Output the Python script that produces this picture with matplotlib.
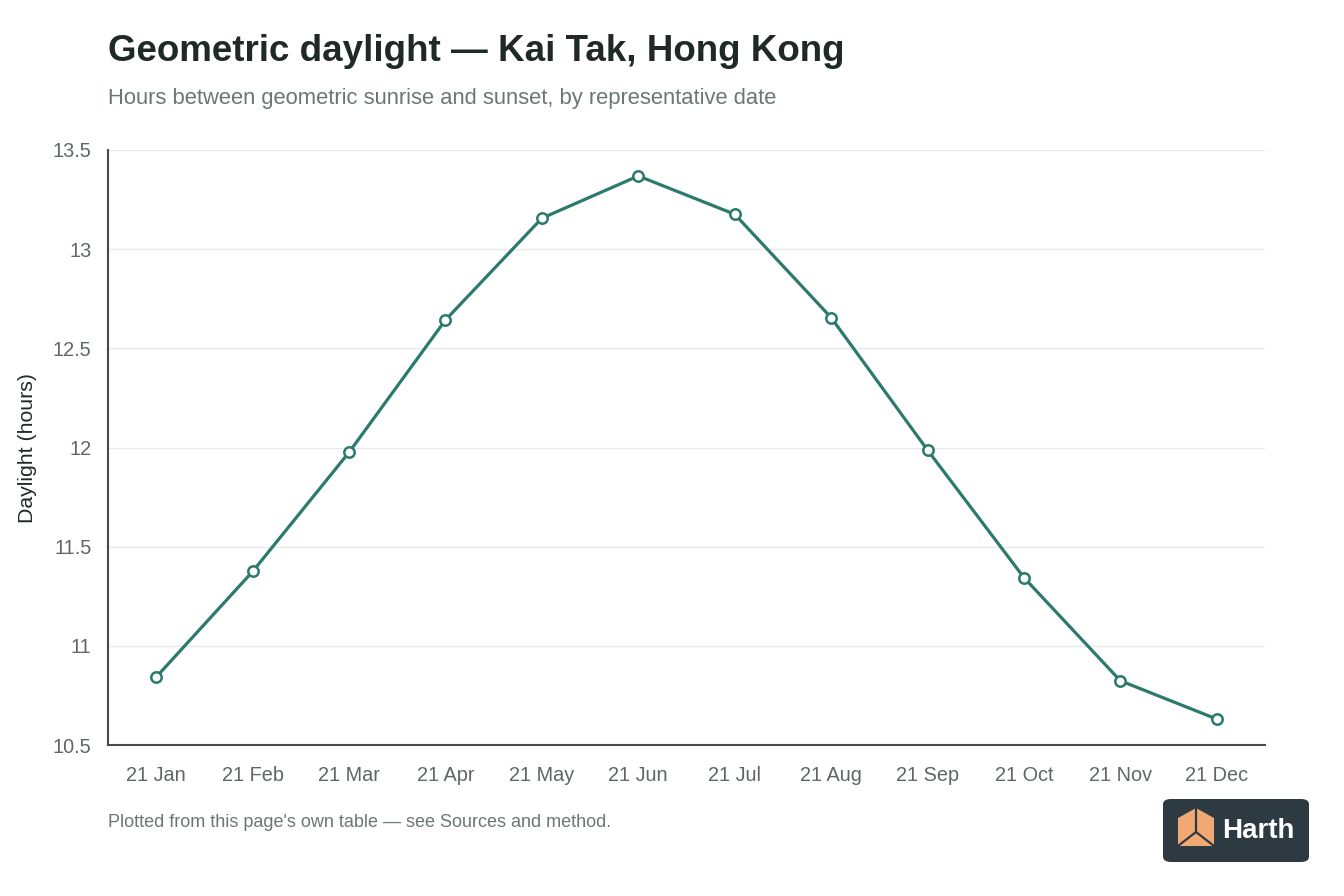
import matplotlib.pyplot as plt
from matplotlib.patches import FancyBboxPatch, Polygon

# daylight hours on the 21st of each month
dates = ['21 Jan', '21 Feb', '21 Mar', '21 Apr', '21 May', '21 Jun',
         '21 Jul', '21 Aug', '21 Sep', '21 Oct', '21 Nov', '21 Dec']
daylight = [10.843, 11.375, 11.976, 12.643, 13.156, 13.369,
            13.176, 12.655, 11.987, 11.344, 10.824, 10.631]
yticks = [10.5, 11, 11.5, 12, 12.5, 13, 13.5]
ytick_labels = ['10.5', '11', '11.5', '12', '12.5', '13', '13.5']

plt.rcParams['font.family'] = ['Liberation Sans', 'DejaVu Sans']

LINE = '#2b7a6c'
TEXT_DARK = '#1f2a27'
TEXT_GRAY = '#6b7774'

fig = plt.figure(figsize=(13.44, 8.96), dpi=100)
ax = fig.add_axes([0.0804, 0.1685, 0.8608, 0.6641])

x = list(range(len(dates)))
ax.plot(x, daylight, color=LINE, linewidth=2.3, marker='o', markersize=7.5,
        markerfacecolor='white', markeredgecolor=LINE, markeredgewidth=1.8,
        zorder=3)

ax.set_xlim(-0.5, len(dates) - 0.5)
ax.set_ylim(10.5, 13.5)
ax.set_xticks(x)
ax.set_xticklabels(dates)
ax.set_yticks(yticks)
ax.set_yticklabels(ytick_labels)
ax.tick_params(axis='both', length=0, labelsize=14.3, labelcolor='#5f6664')
ax.tick_params(axis='x', pad=15)
ax.tick_params(axis='y', pad=12)

ax.grid(axis='y', color='#e8e8e8', linewidth=1)
ax.set_axisbelow(True)
for side in ['top', 'right']:
    ax.spines[side].set_visible(False)
for side in ['left', 'bottom']:
    ax.spines[side].set_color('#4a4a4a')
    ax.spines[side].set_linewidth(1.5)

ax.set_ylabel('Daylight (hours)', fontsize=15.3, color=TEXT_DARK, labelpad=11)

fig.text(0.0804, 0.9425, 'Geometric daylight — Kai Tak, Hong Kong',
         fontsize=26.5, fontweight='bold', color=TEXT_DARK, va='center')
fig.text(0.0804, 0.8905, 'Hours between geometric sunrise and sunset, by representative date',
         fontsize=15.8, color=TEXT_GRAY, va='center')
fig.text(0.0804, 0.0825, "Plotted from this page's own table — see Sources and method.",
         fontsize=13, color=TEXT_GRAY, va='center')

# logo badge
W, H = 1344, 896
badge = FancyBboxPatch((1163 / W, 1 - 862 / H), 146 / W, 63 / H,
                       boxstyle='round,pad=0,rounding_size=0.006',
                       transform=fig.transFigure, facecolor='#2e3a42',
                       edgecolor='none')
fig.patches.append(badge)
cx, cy = 1196, 830
hexpts = [(cx - 18, cy - 12), (cx, cy - 22), (cx + 18, cy - 12),
          (cx + 18, cy + 16), (cx - 18, cy + 16)]
fig.patches.append(Polygon([(px / W, 1 - py / H) for px, py in hexpts],
                           closed=True, transform=fig.transFigure,
                           facecolor='#f2a872', edgecolor='none'))
for seg in [[(cx, cy - 22), (cx, cy + 2)], [(cx, cy + 2), (cx - 18, cy + 16)],
            [(cx, cy + 2), (cx + 18, cy + 16)]]:
    fig.lines.append(plt.Line2D([p[0] / W for p in seg], [1 - p[1] / H for p in seg],
                                transform=fig.transFigure, color='#2e3a42',
                                linewidth=1.6))
fig.text(1222 / W, 1 - 831 / H, 'Harth', fontsize=20, fontweight='bold',
         color='white', va='center')

fig.savefig('out.png', dpi=100)
